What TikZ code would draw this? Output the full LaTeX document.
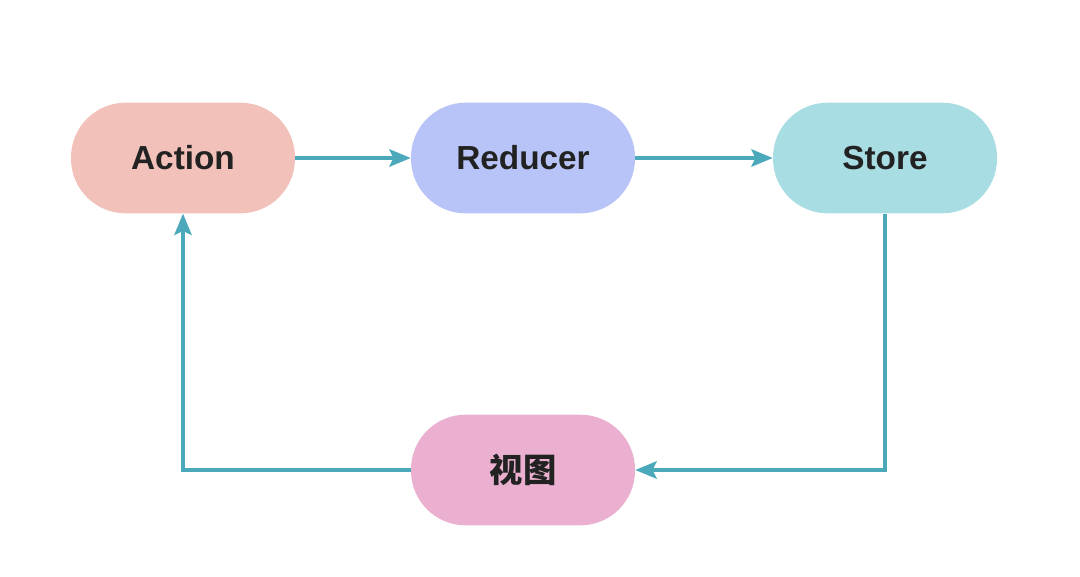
\documentclass[tikz,border=0pt]{standalone}
\usepackage{fontspec}
\setmainfont{Liberation Sans}
\newfontfamily\cjk{Noto Sans CJK SC}
\usetikzlibrary{arrows.meta}
\definecolor{actioncol}{HTML}{F2C1B9}
\definecolor{reducercol}{HTML}{B8C4F7}
\definecolor{storecol}{HTML}{A8DDE3}
\definecolor{viewcol}{HTML}{EBB0CF}
\definecolor{linkcol}{HTML}{4BA9BB}
\definecolor{textcol}{HTML}{222222}

\begin{document}
\begin{tikzpicture}
	[x=0.75pt,y=-0.75pt,
	pill/.style={rectangle,rounded corners=41pt,minimum width=168pt,minimum height=83pt,inner sep=0pt,
		text=textcol,font=\fontsize{25}{30}\selectfont\bfseries},
	link/.style={draw=linkcol,line width=2.7pt,-{Stealth[length=16pt,width=13pt,inset=3pt]}}]
	\useasboundingbox (0,0) rectangle (1080,576);
	\node[pill,fill=actioncol] (n1) at (183,158) {Action};
	\node[pill,fill=reducercol] (n2) at (523,158) {Reducer};
	\node[pill,fill=storecol] (n3) at (885,158) {Store};
	\node[pill,fill=viewcol] (n4) at (523,470) {\cjk 视图};
	\foreach \from/\to in {n1/n2,n2/n3}
	\draw[link] (\from) -- (\to);
	\draw[link] (n3.south) |- (n4.east);
	\draw[link] (n4.west) -| (n1.south);
\end{tikzpicture}
\end{document}
